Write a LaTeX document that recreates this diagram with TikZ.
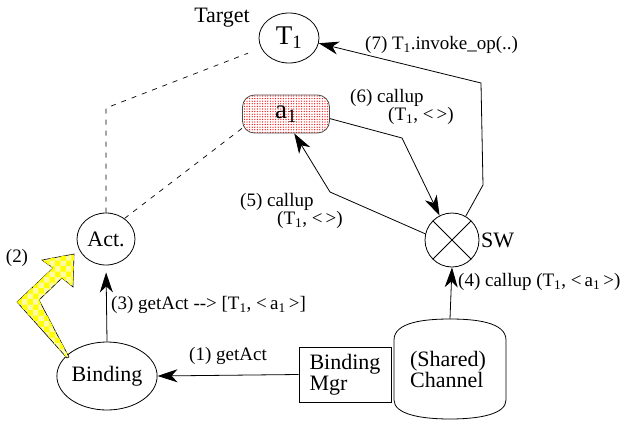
\documentclass[tikz,border=0pt]{standalone}
\usepackage{fontspec}
\setmainfont{Liberation Serif}
\usetikzlibrary{shapes.geometric,arrows.meta,patterns}
% denser dot fill for the action box
\pgfdeclarepatternformonly{densedots}{\pgfqpoint{-1pt}{-1pt}}{\pgfqpoint{2pt}{2pt}}{\pgfqpoint{2.6pt}{2.6pt}}%
{\pgfpathcircle{\pgfqpoint{0pt}{0pt}}{.65pt}\pgfusepath{fill}}
\begin{document}
\begin{tikzpicture}[x=1pt,y=-1pt,
  lab/.style={font=\fontsize{19}{17}\selectfont, inner sep=0pt},
  nodetext/.style={font=\fontsize{22}{21}\selectfont},
  bigtext/.style={font=\fontsize{27}{27}\selectfont},
  oval/.style={ellipse, draw, line width=0.8pt, inner sep=0pt},
  arr/.style={-{Stealth[length=20pt,width=13pt,inset=6pt]}, line width=0.8pt},
  link/.style={dash pattern=on 5pt off 6pt, line width=0.7pt}]
\useasboundingbox (0,0) rectangle (641,421);

% objects
\node[oval, bigtext, minimum width=60pt, minimum height=50pt] (t1) at (289,38) {T\textsubscript{1}};
\node[nodetext, anchor=center] (target) at (222,18) {Target};
\node[draw=black!70, line width=0.8pt, rounded corners=12pt, pattern=densedots, pattern color=red,
      minimum width=87pt, minimum height=38pt, inner sep=0pt] (a1) at (286,114) {};
\node[bigtext] at (a1) {a\textsubscript{1}};
\node[oval, nodetext, minimum width=58pt, minimum height=52pt] (act) at (106,239) {Act.};
\node[oval, nodetext, minimum width=89pt, minimum height=68pt] (binding) at (107,376) {Binding};
\node[draw, line width=0.8pt, minimum width=92pt, minimum height=55pt, inner sep=0pt,
      align=left, nodetext] (mgr) at (345,374.5) {Binding\\Mgr};
\node[circle, draw, line width=0.8pt, minimum size=54pt, inner sep=0pt] (sw) at (452,240) {};
\draw[line width=0.8pt] (sw.north east) -- (sw.south west) (sw.north west) -- (sw.south east);
\node[nodetext, anchor=west, inner sep=0pt] (swlab) at (481,240) {SW};

% shared channel
\node[minimum width=112pt, minimum height=100pt, inner sep=0pt, align=left, nodetext] (chan) at (450,369)
  {\hspace*{-4pt}(Shared)\\\hspace*{-4pt}Channel};
\draw[line width=0.8pt] (394,352) -- (394,340) .. controls (394,322) and (425,319) .. (450,319)
  .. controls (475,319) and (506,322) .. (506,340) -- (506,400)
  .. controls (506,414) and (480,419) .. (450,419)
  .. controls (420,419) and (394,414) .. (394,400) -- cycle;

% actor links
\coordinate (j1) at (106,108);
\draw[link, shorten >=14pt] (act.north) -- (j1) -- (t1.200);
\draw[link] (act.48) -- (a1.198);

% yellow step arrow
\draw[line width=0.6pt, fill=yellow!35, postaction={pattern=checkerboard, pattern color=yellow}]
  (67,358) -- (17,302) -- (53,268) -- (42,260) -- (74,254) -- (73,287) -- (62,278) -- (39,300) -- (69,357) -- cycle;
\node[lab] (l2) at (17,258) {(2)};

% calls
\draw[arr] (mgr.west) -- (binding.east);
\node[lab] (l1) at (228,356) {(1) getAct};

\draw[arr, shorten >=7pt] (binding.north) -- (act.south);
\node[lab, anchor=west] (l3) at (111,305) {(3) getAct -{}-> [T\textsubscript{1}, <\,a\textsubscript{1}\,>]};

\draw[arr] (chan.north) -- (sw.south);
\node[lab, anchor=west] (l4) at (458,282) {(4) callup (T\textsubscript{1}, <\,a\textsubscript{1}\,>)};

\coordinate (b5) at (330,192);
\draw[arr] (sw.167) -- (b5) -- (a1.-67);
\node[lab, align=left, anchor=north west] (l5) at (240,193) {(5) callup\\\hspace*{37pt}(T\textsubscript{1}, <\,>)};

\coordinate (b6) at (402,138);
\draw[arr] (a1.-6) -- (b6) -- (sw.117);
\node[lab, align=left, anchor=north west] (l6) at (350,89) {(6) callup\\\hspace*{38pt}(T\textsubscript{1}, <\,>)};

\coordinate (b7a) at (483,185);
\coordinate (b7b) at (481,83);
\draw[arr] (sw.60) -- (b7a) -- (b7b) -- (t1.-10);
\node[lab, anchor=west] (l7) at (365,45) {(7) T\textsubscript{1}.invoke\_op(..)};
\end{tikzpicture}
\end{document}
